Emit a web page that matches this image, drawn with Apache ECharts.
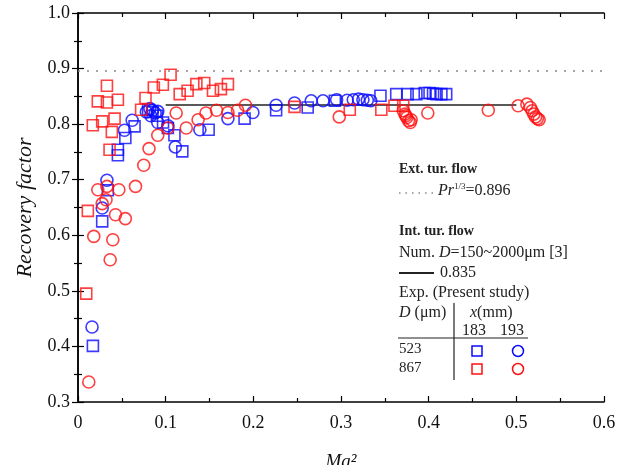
<!DOCTYPE html>
<html>
<head>
<meta charset="utf-8">
<script src="https://cdn.jsdelivr.net/npm/echarts@6/dist/echarts.min.js"></script>
<style>
  html, body { margin: 0; padding: 0; background: #fff; }
  #chart { width: 617px; height: 465px; }
</style>
</head>
<body>
<div id="chart"></div>
<script>
// D=523um, x=183mm (blue squares)
var d523x183 = [
  [0.017, 0.401], [0.0276, 0.625], [0.034, 0.681], [0.0455, 0.754], [0.0455, 0.744],
  [0.054, 0.775], [0.0645, 0.796], [0.080, 0.826], [0.085, 0.822], [0.090, 0.815],
  [0.097, 0.803], [0.1025, 0.793], [0.110, 0.780], [0.119, 0.751], [0.149, 0.790],
  [0.190, 0.810], [0.226, 0.825], [0.262, 0.830], [0.293, 0.842], [0.345, 0.851],
  [0.363, 0.854], [0.376, 0.854], [0.386, 0.854], [0.3955, 0.856], [0.401, 0.856],
  [0.405, 0.855], [0.409, 0.854], [0.4145, 0.854], [0.420, 0.854]
];
// D=523um, x=193mm (blue circles)
var d523x193 = [
  [0.016, 0.435], [0.0276, 0.649], [0.033, 0.699], [0.053, 0.789], [0.0618, 0.807],
  [0.078, 0.822], [0.082, 0.828], [0.085, 0.825], [0.088, 0.820], [0.083, 0.815],
  [0.091, 0.823], [0.091, 0.803], [0.1025, 0.797], [0.111, 0.759], [0.139, 0.790],
  [0.171, 0.810], [0.1995, 0.821], [0.226, 0.834], [0.247, 0.838], [0.266, 0.842],
  [0.2795, 0.842], [0.295, 0.844], [0.307, 0.843], [0.314, 0.844], [0.320, 0.845],
  [0.325, 0.844], [0.330, 0.843], [0.334, 0.842]
];
// D=867um, x=183mm (red squares)
var d867x183 = [
  [0.0094, 0.495], [0.0112, 0.644], [0.0169, 0.798], [0.0226, 0.841], [0.0276, 0.805],
  [0.033, 0.839], [0.033, 0.869], [0.036, 0.754], [0.0386, 0.786], [0.0417, 0.810],
  [0.0455, 0.844], [0.072, 0.826], [0.077, 0.847], [0.0865, 0.866], [0.0968, 0.871],
  [0.1056, 0.889], [0.116, 0.854], [0.125, 0.860], [0.135, 0.872], [0.144, 0.874],
  [0.154, 0.860], [0.163, 0.863], [0.171, 0.872], [0.247, 0.831], [0.310, 0.826],
  [0.346, 0.826], [0.361, 0.833], [0.371, 0.833]
];
// D=867um, x=193mm (red circles)
var d867x193 = [
  [0.0123, 0.336], [0.018, 0.598], [0.0226, 0.682], [0.0276, 0.657], [0.032, 0.664],
  [0.033, 0.688], [0.0367, 0.556], [0.0397, 0.592], [0.0428, 0.637], [0.0466, 0.682],
  [0.054, 0.630], [0.0656, 0.688], [0.075, 0.726], [0.081, 0.756], [0.091, 0.780],
  [0.1025, 0.793], [0.112, 0.820], [0.1235, 0.793], [0.137, 0.808], [0.146, 0.820],
  [0.158, 0.825], [0.171, 0.821], [0.182, 0.825], [0.191, 0.834], [0.298, 0.813],
  [0.371, 0.824], [0.373, 0.818], [0.375, 0.812], [0.377, 0.806], [0.379, 0.803],
  [0.374, 0.815], [0.380, 0.808], [0.399, 0.820], [0.468, 0.825], [0.502, 0.833],
  [0.512, 0.836], [0.516, 0.830], [0.518, 0.824], [0.520, 0.818], [0.522, 0.813],
  [0.524, 0.810], [0.526, 0.808]
];
var extLevel = 0.896;   // Pr^(1/3)
var intLevel = 0.835;   // numerical, 0.1..0.5
var intRange = [0.1, 0.5];

var blue = '#0a0aff', red = '#ff1010';
var serif = '"Liberation Serif", "Times New Roman", serif';

var myChart = echarts.init(document.getElementById('chart'));

function scat(name, data, sym, col) {
  return {
    name: name, type: 'scatter', data: data,
    symbol: sym, symbolSize: sym === 'rect' ? 11 : 12,
    itemStyle: { color: 'rgba(255,255,255,0)', borderColor: col, borderWidth: 1.6 },
    z: 5
  };
}

var axisBase = {
  min: 0, max: 0.6, interval: 0.1,
  axisLine: { lineStyle: { color: '#000', width: 1.5 } },
  axisTick: { inside: true, length: 6, lineStyle: { color: '#000', width: 1.2 } },
  minorTick: { show: true, splitNumber: 2, length: 4, lineStyle: { color: '#000', width: 1.2 } },
  splitLine: { show: false }
};

var option = {
  animation: false,
  grid: { left: 78, right: 13, top: 13, bottom: 63, containLabel: false, outerBoundsMode: 'none' },
  xAxis: [
    Object.assign({}, axisBase, {
      type: 'value', position: 'bottom',
      axisLabel: { color: '#111', fontFamily: serif, fontSize: 18, margin: 12,
        formatter: function (v) { return v === 0 ? '0' : v.toFixed(1); } },
      name: 'Ma\u00b2', nameLocation: 'middle', nameGap: 50,
      nameTextStyle: { color: '#111', fontFamily: serif, fontSize: 19, fontStyle: 'italic' }
    }),
    Object.assign({}, axisBase, {
      type: 'value', position: 'top', axisLabel: { show: false }
    })
  ],
  yAxis: [
    {
      type: 'value', min: 0.3, max: 1.0, interval: 0.1, position: 'left',
      axisLine: axisBase.axisLine, axisTick: axisBase.axisTick,
      minorTick: axisBase.minorTick, splitLine: { show: false },
      axisLabel: { color: '#111', fontFamily: serif, fontSize: 18, margin: 8,
        formatter: function (v) { return v.toFixed(1); } },
      name: 'Recovery factor', nameLocation: 'middle', nameGap: 38,
      nameTextStyle: { color: '#111', fontFamily: serif, fontSize: 22, fontStyle: 'italic' }
    },
    {
      type: 'value', min: 0.3, max: 1.0, interval: 0.1, position: 'right',
      axisLine: axisBase.axisLine, axisTick: axisBase.axisTick,
      minorTick: axisBase.minorTick, splitLine: { show: false },
      axisLabel: { show: false }
    }
  ],
  series: [
    {
      type: 'line', data: [], silent: true,
      markLine: {
        silent: true, symbol: 'none', animation: false,
        label: { show: false },
        data: [
          [{ coord: [0, extLevel], lineStyle: { color: '#888', width: 1.5, type: [2, 7] } },
           { coord: [0.6, extLevel] }],
          [{ coord: [intRange[0], intLevel], lineStyle: { color: '#222', width: 1.5, type: 'solid' } },
           { coord: [intRange[1], intLevel] }]
        ]
      }
    },
    scat('523-183', d523x183, 'rect', blue),
    scat('523-193', d523x193, 'circle', blue),
    scat('867-183', d867x183, 'rect', red),
    scat('867-193', d867x193, 'circle', red)
  ],
  graphic: [
    { type: 'text', left: 399, top: 162, style: { text: 'Ext. tur. flow', font: 'bold 14px ' + serif, fill: '#222' } },
    { type: 'line', shape: { x1: 399, y1: 193, x2: 434, y2: 193 }, style: { stroke: '#888', lineWidth: 1.5, lineDash: [1.5, 5] } },
    { type: 'text', left: 438, top: 182, style: {
        text: '{i|Pr}{s|1/3}{n|=0.896}',
        rich: {
          i: { font: 'italic 16px ' + serif, fill: '#222' },
          s: { font: '9px ' + serif, fill: '#222', verticalAlign: 'top', padding: [0, 0, 8, 0] },
          n: { font: '16px ' + serif, fill: '#222' }
        } } },
    { type: 'text', left: 399, top: 224, style: { text: 'Int. tur. flow', font: 'bold 14px ' + serif, fill: '#222' } },
    { type: 'text', left: 399, top: 245, style: {
        text: 'Num. {i|D}=150~2000\u03bcm [3]',
        font: '16px ' + serif, fill: '#222',
        rich: { i: { font: 'italic 16px ' + serif, fill: '#222' } } } },
    { type: 'line', shape: { x1: 399, y1: 273, x2: 434, y2: 273 }, style: { stroke: '#222', lineWidth: 2 } },
    { type: 'text', left: 440, top: 265, style: { text: '0.835', font: '16px ' + serif, fill: '#222' } },
    { type: 'text', left: 399, top: 285, style: { text: 'Exp. (Present study)', font: '16px ' + serif, fill: '#222' } },
    { type: 'text', left: 399, top: 305, style: {
        text: '{i|D} (\u03bcm)', font: '16px ' + serif, fill: '#222',
        rich: { i: { font: 'italic 16px ' + serif, fill: '#222' } } } },
    { type: 'text', left: 470, top: 305, style: {
        text: '{i|x}(mm)', font: '16px ' + serif, fill: '#222',
        rich: { i: { font: 'italic 16px ' + serif, fill: '#222' } } } },
    { type: 'text', left: 462, top: 323, style: { text: '183', font: '16px ' + serif, fill: '#222' } },
    { type: 'text', left: 500, top: 323, style: { text: '193', font: '16px ' + serif, fill: '#222' } },
    { type: 'line', shape: { x1: 398, y1: 338, x2: 528, y2: 338 }, style: { stroke: '#222', lineWidth: 1.2 } },
    { type: 'line', shape: { x1: 454, y1: 303, x2: 454, y2: 380 }, style: { stroke: '#222', lineWidth: 1.2 } },
    { type: 'text', left: 399, top: 342, style: { text: '523', font: '15px ' + serif, fill: '#222' } },
    { type: 'text', left: 399, top: 361, style: { text: '867', font: '15px ' + serif, fill: '#222' } },
    { type: 'rect', shape: { x: 472, y: 346, width: 10, height: 10 }, style: { fill: 'none', stroke: blue, lineWidth: 1.5 } },
    { type: 'circle', shape: { cx: 518, cy: 351, r: 5.5 }, style: { fill: 'none', stroke: blue, lineWidth: 1.5 } },
    { type: 'rect', shape: { x: 472, y: 364, width: 10, height: 10 }, style: { fill: 'none', stroke: red, lineWidth: 1.5 } },
    { type: 'circle', shape: { cx: 518, cy: 369, r: 5.5 }, style: { fill: 'none', stroke: red, lineWidth: 1.5 } }
  ]
};
myChart.setOption(option);
</script>
</body>
</html>
